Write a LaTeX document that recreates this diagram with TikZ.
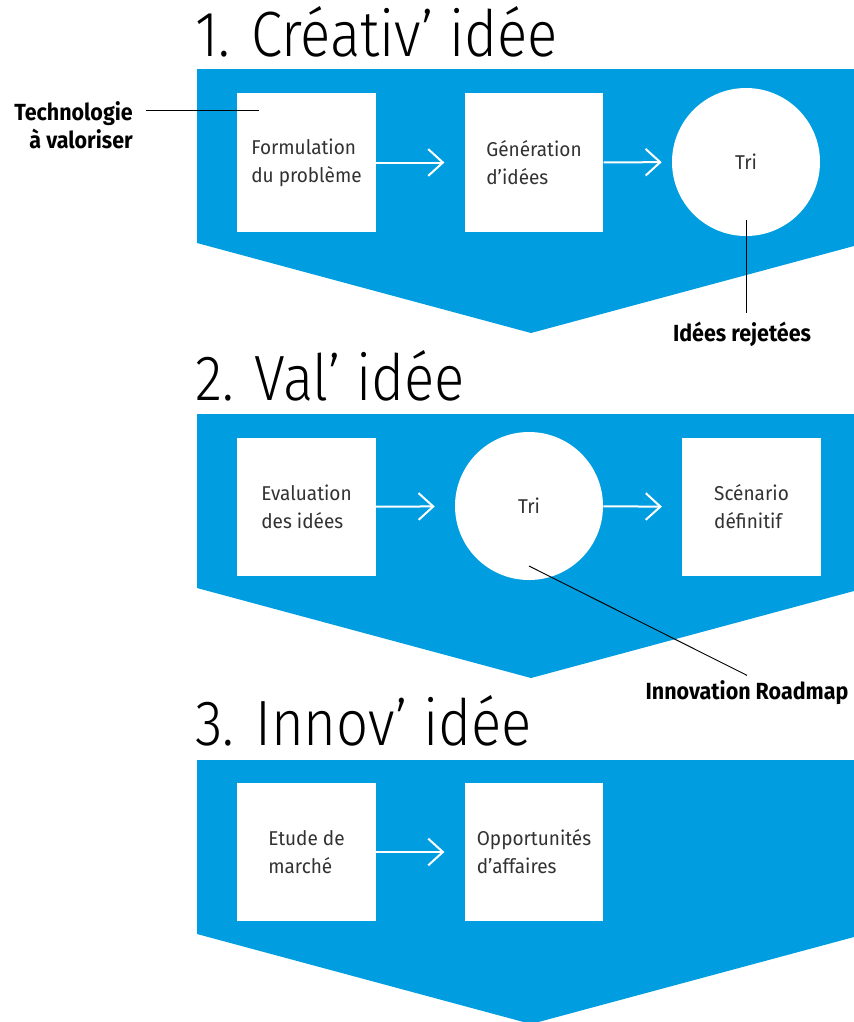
\documentclass[tikz,border=0pt]{standalone}
\usepackage{fontspec}
\setmainfont{Fira Sans}
\newfontfamily\titlefont[FakeStretch=0.88]{Fira Sans Light}
\newfontfamily\boxfont[FakeStretch=0.95]{Fira Sans}
\newfontfamily\notefont[FakeStretch=0.92]{Fira Sans Bold}
\usetikzlibrary{arrows.meta}
\definecolor{chevblue}{RGB}{0,158,224}
\definecolor{boxgray}{RGB}{50,50,50}
\tikzset{
  stepbox/.style={fill=white, minimum width=104pt, minimum height=104pt,
    align=left, inner sep=0pt, text=boxgray,
    font=\boxfont\fontsize{15}{21}\selectfont},
  sortdisc/.style={circle, fill=white, minimum size=111pt, inner sep=0pt,
    text=boxgray, font=\boxfont\fontsize{15}{21}\selectfont},
  flow/.style={white, line width=1.5pt,
    -{Straight Barb[length=11pt, width=20pt, line width=1.5pt]}},
  phase/.style={anchor=base west, inner sep=0pt,
    font=\titlefont\fontsize{48}{48}\selectfont},
  note/.style={inner sep=0pt, align=right,
    font=\notefont\fontsize{17.5}{21}\selectfont},
  pointer/.style={black, line width=0.7pt}
}
\begin{document}
\begin{tikzpicture}[x=0.75pt, y=-0.75pt]
    \useasboundingbox (0,0) rectangle (854,1022);

    % 1. The three blue chevrons
    \foreach \t in {69, 414, 760}
        \fill[chevblue] (197,\t) -- (854,\t) -- (854,{\t+177})
            -- (531,{\t+264}) -- (197,{\t+174}) -- cycle;

    % 2. Phase titles
    \node[phase] (P1) at (195,56)  {1. Créativ’ idée};
    \node[phase] (P2) at (195,400) {2. Val’ idée};
    \node[phase] (P3) at (195,745) {3. Innov’ idée};

    % 3. Steps
    % Phase 1
    \node[stepbox]  (F1) at (306.5,162.5) {Formulation\\du problème};
    \node[stepbox]  (G1) at (534,162.5)   {Génération\\d’idées};
    \node[sortdisc] (T1) at (746,162)     {Tri};

    % Phase 2
    \node[stepbox]  (E2) at (306.5,507) {Evaluation\\des idées};
    \node[sortdisc] (T2) at (529,506)   {Tri};
    \node[stepbox]  (S2) at (751.5,507) {Scénario\\définitif};

    % Phase 3
    \node[stepbox] (M3) at (306.5,852) {Etude de\\marché};
    \node[stepbox] (O3) at (534,852)   {Opportunités\\d’affaires};

    % 4. Flow arrows
    \draw[flow, shorten >=15pt]  (F1) -- (G1);
    \draw[flow, shorten >=7.5pt] (G1) -- (T1);
    \draw[flow, shorten >=15pt]  (E2) -- (T2);
    \draw[flow, shorten >=15pt]  (T2) -- (S2);
    \draw[flow, shorten >=15pt]  (M3) -- (O3);

    % 5. Side notes
    \node[note, anchor=north east] (TECH) at (133,101) {Technologie\\à valoriser};
    \coordinate (TV) at (259,110);
    \draw[pointer] (TECH.east |- TV) ++(10pt,0) -- (TV);

    \node[note] (REJ) at (742,334) {Idées rejetées};
    \draw[pointer] ([yshift=12pt]T1.south) -- ([yshift=6pt]T1.south |- REJ.north);

    \node[note] (ROAD) at (747,693) {Innovation Roadmap};
    \draw[pointer] ([yshift=-45pt]T2.center) -- ([yshift=4pt]ROAD.north);

\end{tikzpicture}
\end{document}
